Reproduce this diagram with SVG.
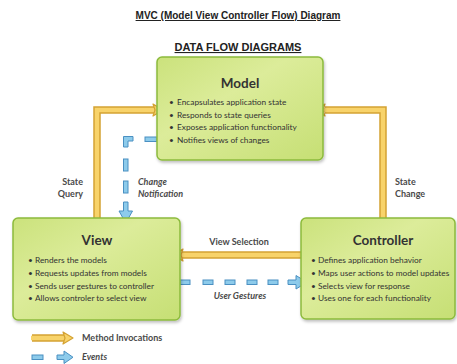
<svg xmlns="http://www.w3.org/2000/svg" width="457" height="364" viewBox="0 0 457 364">
<style>
.title{font-family:"Liberation Sans",Arial,sans-serif;font-weight:bold;fill:#222;text-decoration:underline;text-anchor:middle}
.box{fill:url(#g);stroke:#8cbb3c;stroke-width:1.5;filter:url(#sh)}
.bt{font-family:Lato,"Liberation Sans",sans-serif;font-weight:bold;font-size:13.5px;fill:#333;text-anchor:middle}
.bl{font-family:Lato,"Liberation Sans",sans-serif;font-size:8.3px;fill:#333}
.lb{font-family:Lato,"Liberation Sans",sans-serif;font-weight:bold;font-size:9px;fill:#4a4a4a}
.it{font-style:italic}
.yo{fill:none;stroke:#d4a233;stroke-width:7.5;stroke-linejoin:miter}
.yi{fill:none;stroke:#f8d36a;stroke-width:4.5;stroke-linejoin:miter}
.yh{fill:#f8d36a;stroke:#d4a233;stroke-width:1.2;stroke-linejoin:round}
.bd{fill:#8dcbeb;stroke:#4a90c2;stroke-width:1}
</style>
<defs>
<linearGradient id="g" x1="0" y1="0" x2="1" y2="1">
<stop offset="0" stop-color="#cbe27c"/>
<stop offset="0.4" stop-color="#dcec9a"/>
<stop offset="1" stop-color="#c6df74"/>
</linearGradient>
<filter id="sh" x="-10%" y="-10%" width="120%" height="130%">
<feDropShadow dx="1" dy="2" stdDeviation="1.5" flood-color="#000" flood-opacity="0.25"/>
</filter>
</defs>

<text class="title" x="238" y="19" font-size="10">MVC (Model View Controller Flow) Diagram</text>
<text class="title" x="238" y="51" font-size="11">DATA FLOW DIAGRAMS</text>

<g id="connectors">
<!-- View -> Model (State Query) -->
<path class="yo" d="M97,218 V110 H155"/>
<path class="yi" d="M97,218 V110 H156"/>
<polygon class="yh" points="153,104 163,110 153,116 155,110"/>
<!-- Controller -> Model (State Change) -->
<path class="yo" d="M383,218 V110 H325"/>
<path class="yi" d="M383,218 V110 H324"/>
<polygon class="yh" points="325,104 315,110 325,116 323,110"/>
<!-- Controller -> View (View Selection) -->
<path class="yo" d="M301,255 H182"/>
<path class="yi" d="M301,255 H181"/>
<polygon class="yh" points="183,249 173,255 183,261 181,255"/>
<!-- Model -> View (Change Notification) -->
<rect class="bd" x="145" y="137" width="12" height="4.5"/>
<path class="bd" d="M123.5,136.5 H133 V141 H128 V147 H123.5 Z"/>
<rect class="bd" x="123.5" y="159" width="4.5" height="12"/>
<rect class="bd" x="123.5" y="181" width="4.5" height="12"/>
<path class="bd" d="M123.5,202 H128 V211 H132.5 L125.75,223 L119,211 H123.5 Z"/>
<!-- View -> Controller (User Gestures) -->
<rect class="bd" x="180" y="280" width="10" height="4.5"/>
<rect class="bd" x="203" y="280" width="10" height="4.5"/>
<rect class="bd" x="225" y="280" width="10" height="4.5"/>
<rect class="bd" x="247" y="280" width="10" height="4.5"/>
<rect class="bd" x="268" y="280" width="10" height="4.5"/>
<path class="bd" d="M288,280 H296 V275.5 L307,282.25 L296,289 V284.5 H288 Z"/>
</g>

<g id="model">
<rect class="box" x="157" y="57" width="166" height="103" rx="5"/>
<text class="bt" x="240" y="88">Model</text>
<text class="bl" x="169" y="105">•</text><text class="bl" x="177" y="105">Encapsulates application state</text>
<text class="bl" x="169" y="117.5">•</text><text class="bl" x="177" y="117.5">Responds to state queries</text>
<text class="bl" x="169" y="130">•</text><text class="bl" x="177" y="130">Exposes application functionality</text>
<text class="bl" x="169" y="142.5">•</text><text class="bl" x="177" y="142.5">Notifies views of changes</text>
</g>

<g id="view">
<rect class="box" x="13" y="218" width="167" height="102" rx="5"/>
<text class="bt" x="97" y="245">View</text>
<text class="bl" x="28" y="263">•</text><text class="bl" x="35" y="263">Renders the models</text>
<text class="bl" x="28" y="276">•</text><text class="bl" x="35" y="276">Requests updates from models</text>
<text class="bl" x="28" y="289">•</text><text class="bl" x="35" y="289">Sends user gestures to controller</text>
<text class="bl" x="28" y="301">•</text><text class="bl" x="35" y="301">Allows controler to select view</text>
</g>

<g id="controller">
<rect class="box" x="301" y="218" width="154" height="101" rx="5"/>
<text class="bt" x="383" y="245">Controller</text>
<text class="bl" x="311" y="263">•</text><text class="bl" x="318" y="263">Defines application behavior</text>
<text class="bl" x="311" y="276">•</text><text class="bl" x="318" y="276">Maps user actions to model updates</text>
<text class="bl" x="311" y="289">•</text><text class="bl" x="318" y="289">Selects view for response</text>
<text class="bl" x="311" y="301">•</text><text class="bl" x="318" y="301">Uses one for each functionality</text>
</g>

<g id="labels">
<text class="lb" x="83" y="184.5" text-anchor="end">State</text>
<text class="lb" x="83" y="196.5" text-anchor="end">Query</text>
<text class="lb it" x="138" y="184.5" font-weight="normal">Change</text>
<text class="lb it" x="138" y="196.5">Notification</text>
<text class="lb" x="395" y="184.5">State</text>
<text class="lb" x="395" y="196.5">Change</text>
<text class="lb" x="239" y="245" text-anchor="middle">View Selection</text>
<text class="lb it" x="240" y="299" text-anchor="middle">User Gestures</text>
</g>

<g id="legend">
<path class="yo" d="M32,338 H64"/>
<path class="yi" d="M31,338 H65"/>
<polygon class="yh" points="63,332 73,338 63,344 65,338"/>
<text class="lb" x="82" y="341">Method Invocations</text>
<rect class="bd" x="32" y="355" width="11" height="4.5"/>
<path class="bd" d="M57,355 H64 V351 L73,357.25 L64,363.5 V359.5 H57 Z"/>
<text class="lb it" x="82" y="360">Events</text>
</g>
</svg>
